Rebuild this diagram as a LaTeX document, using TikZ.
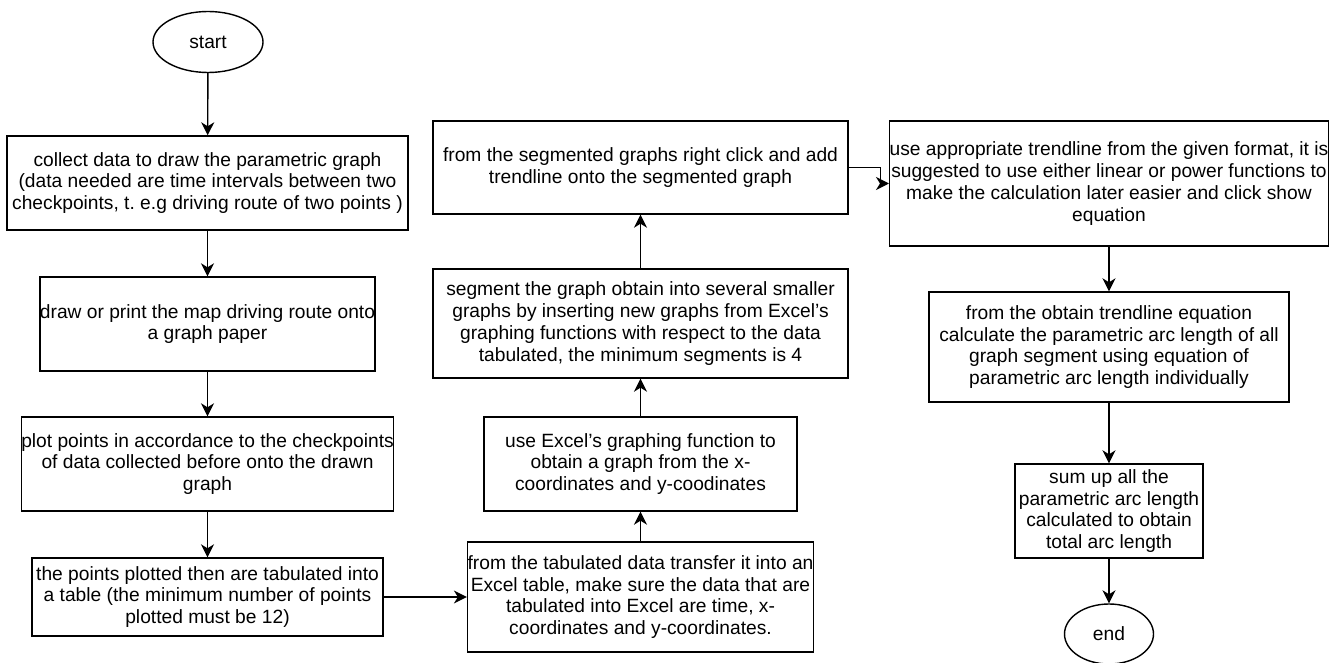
\documentclass[tikz,border=0pt]{standalone}
\usepackage{fontspec}
\setmainfont{Liberation Sans}
\frenchspacing
\usetikzlibrary{
	arrows.meta,
	shapes.geometric
}

\begin{document}
\begin{tikzpicture}[x=1pt,y=-1pt,
		step box/.style={draw,line width=1.4pt,inner sep=0pt,align=center,
			font=\fontsize{19.2}{21.7}\selectfont},
		terminal/.style={step box,ellipse},
		flow/.style={line width=1.4pt,-{Stealth[length=13pt,width=13pt,inset=4pt]}}]
		
		\useasboundingbox (0,0) rectangle (1331,663);
		
		\node[terminal,minimum width=110,minimum height=61] (start) at (208,42) {start};
		\node[step box,minimum width=401,minimum height=94] (collect) at (207.5,183)
		{collect data to draw the parametric graph\\(data needed are time intervals between two\\checkpoints, t. e.g driving route of two points )};
		\node[step box,minimum width=335,minimum height=94] (drawmap) at (207.5,324)
		{draw or print the map driving route onto\\a graph paper};
		\node[step box,minimum width=371,minimum height=94] (plotpts) at (207.5,464)
		{plot points in accordance to the checkpoints\\of data collected before onto the drawn\\graph};
		\node[step box,minimum width=351,minimum height=78] (tabulate) at (207.5,597)
		{the points plotted then are tabulated into\\a table (the minimum number of points\\plotted must be 12)};
		
		\node[step box,minimum width=345,minimum height=110] (transfer) at (640.5,597)
		{from the tabulated data transfer it into an\\Excel table, make sure the data that are\\tabulated into Excel are time, x-\\coordinates and y-coordinates.};
		\node[step box,minimum width=313,minimum height=94] (excelgraph) at (640.5,464)
		{use Excel's graphing function to\\obtain a graph from the x-\\coordinates and y-coodinates};
		\node[step box,minimum width=415,minimum height=109] (segment) at (640.5,323.5)
		{segment the graph obtain into several smaller\\graphs by inserting new graphs from Excel's\\graphing functions with respect to the data\\tabulated, the minimum segments is 4};
		\node[step box,minimum width=415,minimum height=93] (trendline) at (640.5,167.5)
		{from the segmented graphs right click and add\\trendline onto the segmented graph};
		
		\node[step box,minimum width=438,minimum height=125] (format) at (1109,183.5)
		{use appropriate trendline from the given format, it is\\suggested to use either linear or power functions to\\make the calculation later easier and click show\\equation};
		\node[step box,minimum width=360,minimum height=110] (arclen) at (1109,347)
		{from the obtain trendline equation\\calculate the parametric arc length of all\\graph segment using equation of\\parametric arc length individually};
		\node[step box,minimum width=188,minimum height=94] (sumup) at (1109,511)
		{sum up all the\\parametric arc length\\calculated to obtain\\total arc length};
		\node[terminal,minimum width=89,minimum height=60] (end) at (1109,634) {end};
		
		\draw[flow] (start) -- (collect);
		\draw[flow] (collect) -- (drawmap);
		\draw[flow] (drawmap) -- (plotpts);
		\draw[flow] (plotpts) -- (tabulate);
		\draw[flow] (tabulate) -- (transfer);
		\draw[flow] (transfer) -- (excelgraph);
		\draw[flow] (excelgraph) -- (segment);
		\draw[flow] (segment) -- (trendline);
		\draw[flow] (trendline.east) -- ++(32,0) |- (format.west);
		\draw[flow] (format) -- (arclen);
		\draw[flow] (arclen) -- (sumup);
		\draw[flow] (sumup) -- (end);
		
	\end{tikzpicture}
\end{document}
